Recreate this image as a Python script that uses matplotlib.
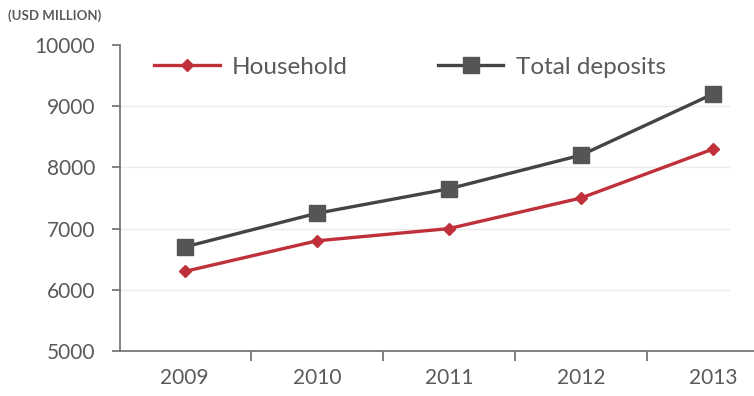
"""Deposits chart: household vs total deposits, 2009-2013."""

import matplotlib

matplotlib.use("Agg")
from matplotlib import pyplot as plt

years = ["2009", "2010", "2011", "2012", "2013"]
household = [6300, 6800, 7000, 7500, 8300]
total_deposits = [6700, 7250, 7650, 8200, 9200]

RED = "#c0303a"
DARK = "#444444"
TEXT = "#5a5a5a"

plt.rcParams["font.family"] = ["Lato", "DejaVu Sans"]

fig = plt.figure(figsize=(7.54, 3.96), dpi=100, facecolor="white")
ax = fig.add_axes([120 / 754, 1 - 351 / 396, 1 - 120 / 754, (351 - 45) / 396])

x = list(range(len(years)))
ax.plot(x, household, color=RED, lw=2.4, marker="D", markersize=6,
        markerfacecolor=RED, markeredgecolor=RED, label="Household", zorder=3)
ax.plot(x, total_deposits, color=DARK, lw=2.4, marker="s", markersize=11,
        markerfacecolor="#555555", markeredgecolor="#555555",
        label="Total deposits", zorder=3)

ax.set_yticks(range(5000, 10001, 1000))
for v in range(6000, 10000, 1000):
    ax.axhline(v, xmin=0, xmax=0.96, color="#ececec", lw=1, zorder=1)

# categories sit between tick marks
ax.set_xticks(x)
ax.set_xticklabels(years)
ax.set_xticks([i - 0.5 for i in range(len(years) + 1)], minor=True)
ax.set_ylim(5000, 10000)
ax.set_xlim(-0.49, 4.31)
ax.tick_params(axis="x", which="major", length=0, pad=12,
               labelsize=15, labelcolor=TEXT)
ax.tick_params(axis="x", which="minor", length=7, width=1.3, color="#777777",
               direction="out")
ax.tick_params(axis="y", length=6, width=1.3, color="#777777", pad=12,
               labelsize=15, labelcolor=TEXT)

for side in ("top", "right"):
    ax.spines[side].set_visible(False)
for side in ("left", "bottom"):
    ax.spines[side].set_color("#777777")
    ax.spines[side].set_linewidth(1.3)

fig.text(8 / 754, 1 - 16 / 396, "(USD MILLION)", fontsize=9.5,
         fontweight="bold", color=TEXT, va="center", ha="left")

ax.legend(loc="center left", bbox_to_anchor=(142 / 754, 1 - 67 / 396),
          bbox_transform=fig.transFigure, ncol=2, frameon=False,
          fontsize=17.5, labelcolor=TEXT, handlelength=2.7, handletextpad=0.5,
          columnspacing=3.7, borderpad=0)

fig.savefig("out.png", dpi=100, facecolor=fig.get_facecolor())
plt.close(fig)
